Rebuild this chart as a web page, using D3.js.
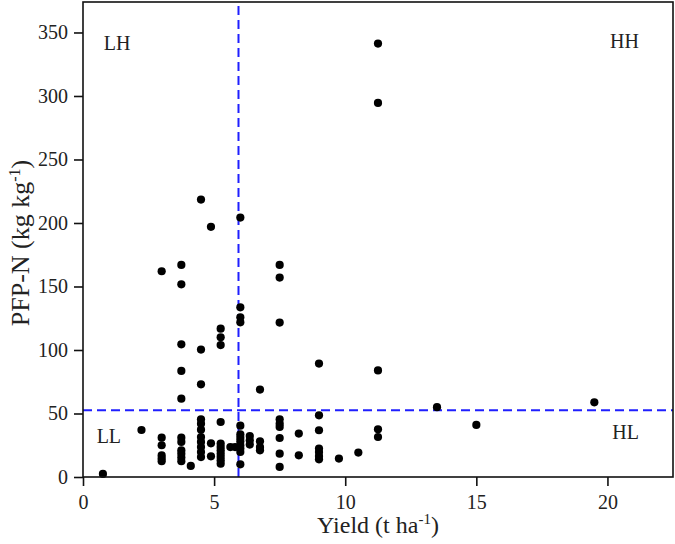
<!DOCTYPE html>
<html>
<head>
<meta charset="utf-8">
<script src="https://cdn.jsdelivr.net/npm/d3@7"></script>
<style>
  body { margin: 0; background: #fff; }
  text { font-family: "Liberation Serif", "Times New Roman", serif; fill: #222; }
</style>
</head>
<body>
<div id="chart"></div>
<script>
// yield (t/ha) and PFP-N (kg/kg) for each site
const yieldVals = [
    0.76, 2.23,
    3.0, 3.0, 3.0, 3.0, 3.0, 3.0,
    3.75, 3.75, 3.75, 3.75, 3.75, 3.75, 3.75, 3.75, 3.75, 3.75, 3.75,
    4.11,
    4.5, 4.5, 4.5, 4.5, 4.5, 4.5, 4.5, 4.5, 4.5, 4.5, 4.5,
    4.88, 4.88, 4.88,
    5.25, 5.25, 5.25, 5.25, 5.25, 5.25, 5.25, 5.25, 5.25, 5.25, 5.25,
    5.62, 5.8,
    6.0, 6.0, 6.0, 6.0, 6.0, 6.0, 6.0, 6.0, 6.0, 6.0, 6.0, 6.0,
    6.36, 6.36, 6.36,
    6.75, 6.75, 6.75, 6.75,
    7.5, 7.5, 7.5, 7.5, 7.5, 7.5, 7.5, 7.5, 7.5,
    8.23, 8.23,
    9.0, 9.0, 9.0, 9.0, 9.0, 9.0, 9.0,
    9.76, 10.5,
    11.25, 11.25, 11.25, 11.25, 11.25,
    13.5, 15.0, 19.5
];
const pfpVals = [
    2.4, 37,
    31, 25, 17, 14.5, 12.4, 162,
    31, 27.6, 21, 18.4, 15.3, 12.4, 61.7, 83.5, 104.5, 151.7, 167,
    8.7,
    45.4, 42, 37.3, 31.5, 27.6, 23.6, 19.7, 15.7, 73, 100.3, 218.4,
    26.5, 16.3, 197,
    43.3, 26.3, 23.6, 21, 18.4, 15.7, 13.1, 10.5, 103.9, 110, 116.8,
    23.6, 23.6,
    40.4, 33.5, 30.8, 28, 25, 22.4, 19.7, 10, 121.8, 125.8, 133.6, 204.3,
    32.3, 28.9, 25.5,
    28.1, 23.6, 21, 68.8,
    45.4, 42, 39.4, 30.7, 18.4, 7.9, 121.6, 157, 167,
    34.2, 17.1,
    48.6, 36.8, 22.4, 19.7, 16.5, 13.9, 89.3,
    14.5, 19.2,
    37.6, 31.5, 83.9, 294.5, 341.3,
    55, 41, 58.8
];

const xTicks = [0, 5, 10, 15, 20];
const yTicks = [0, 50, 100, 150, 200, 250, 300, 350];

// thresholds drawn as dashed lines
const yieldCut = 5.93;
const pfpCut = 52.5;

const quadrants = [
    { label: "LH", x: 0.79, y: 336, anchor: "start" },
    { label: "HH", x: 21.2, y: 337.5, anchor: "end" },
    { label: "LL", x: 0.52, y: 26.5, anchor: "start" },
    { label: "HL", x: 21.2, y: 29.7, anchor: "end" }
];

function init() {
    const w = 675;
    const h = 544;
    const margin = { top: 2, right: 2, bottom: 67, left: 83 };
    const serif = "'Liberation Serif', 'Times New Roman', serif";

    const points = yieldVals.map((v, i) => ({ x: v, y: pfpVals[i] }));

    const xScale = d3.scaleLinear()
        .domain([0, 22.5])
        .range([margin.left, w - margin.right]);

    const yScale = d3.scaleLinear()
        .domain([0, 374])
        .range([h - margin.bottom, margin.top]);

    const svg = d3.select("#chart")
        .append("svg")
        .attr("width", w)
        .attr("height", h);

    // dashed threshold lines
    svg.append("line")
        .attr("x1", xScale(yieldCut))
        .attr("x2", xScale(yieldCut))
        .attr("y1", yScale.range()[0])
        .attr("y2", yScale.range()[1])
        .attr("stroke", "#1f1fff")
        .attr("stroke-width", 2)
        .attr("stroke-dasharray", "9,5");

    svg.append("line")
        .attr("x1", xScale.range()[0])
        .attr("x2", xScale.range()[1])
        .attr("y1", yScale(pfpCut))
        .attr("y2", yScale(pfpCut))
        .attr("stroke", "#1f1fff")
        .attr("stroke-width", 2)
        .attr("stroke-dasharray", "9,5");

    // points
    svg.selectAll("circle")
        .data(points)
        .enter()
        .append("circle")
        .attr("cx", d => xScale(d.x))
        .attr("cy", d => yScale(d.y))
        .attr("r", 4.1)
        .attr("fill", "#000");

    // frame
    svg.append("rect")
        .attr("x", margin.left)
        .attr("y", margin.top)
        .attr("width", w - margin.left - margin.right)
        .attr("height", h - margin.top - margin.bottom)
        .attr("fill", "none")
        .attr("stroke", "#111")
        .attr("stroke-width", 1.6);

    // axes
    const xAxis = d3.axisBottom(xScale)
        .tickValues(xTicks)
        .tickSize(9)
        .tickPadding(9)
        .tickSizeOuter(0);

    const gx = svg.append("g")
        .attr("transform", `translate(0,${h - margin.bottom})`)
        .call(xAxis);

    const yAxis = d3.axisLeft(yScale)
        .tickValues(yTicks)
        .tickSize(9)
        .tickPadding(6)
        .tickSizeOuter(0);

    const gy = svg.append("g")
        .attr("transform", `translate(${margin.left},0)`)
        .call(yAxis);

    [gx, gy].forEach(g => {
        g.select(".domain").remove();
        g.selectAll("line").attr("stroke", "#111").attr("stroke-width", 1.6);
        g.selectAll("text")
            .attr("font-family", serif)
            .attr("font-size", "20px")
            .attr("fill", "#222");
    });

    // quadrant labels
    svg.selectAll(".quad")
        .data(quadrants)
        .enter()
        .append("text")
        .attr("class", "quad")
        .attr("x", d => xScale(d.x))
        .attr("y", d => yScale(d.y))
        .attr("text-anchor", d => d.anchor)
        .attr("font-size", "20px")
        .text(d => d.label);

    // x axis title
    const xt = svg.append("text")
        .attr("x", 378)
        .attr("y", 533)
        .attr("text-anchor", "middle")
        .attr("font-size", "24px");
    xt.append("tspan").text("Yield (t ha");
    xt.append("tspan").attr("dy", -9).attr("font-size", "15px").text("-1");
    xt.append("tspan").attr("dy", 9).text(")");

    // y axis title
    const yt = svg.append("text")
        .attr("transform", "rotate(-90)")
        .attr("x", -243)
        .attr("y", 29)
        .attr("text-anchor", "middle")
        .attr("font-size", "26px");
    yt.append("tspan").text("PFP-N (kg kg");
    yt.append("tspan").attr("dy", -9).attr("font-size", "16px").text("-1");
    yt.append("tspan").attr("dy", 9).text(")");
}

window.onload = init;
</script>
</body>
</html>
